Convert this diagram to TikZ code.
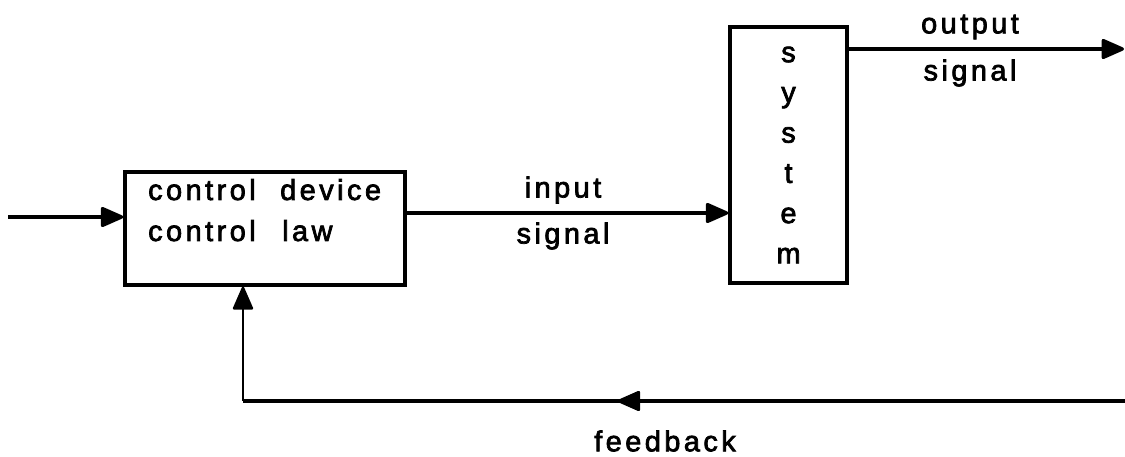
\documentclass[tikz,border=0pt]{standalone}
\usepackage{fontspec}
\setmainfont{Liberation Sans}
\newfontfamily\lblfont{Liberation Sans}[LetterSpace=12,FakeBold=2.5]
\usetikzlibrary{arrows.meta,decorations.markings}
\tikzset{
  blk/.style={draw, line width=3.5bp, inner sep=0pt},
  lbl/.style={inner sep=0pt, font=\lblfont\fontsize{29}{40.4}\selectfont},
  wire/.style={line width=3.3bp},
  sig/.style={wire, -{Triangle[length=25bp,width=21bp,round]}},
}
\begin{document}
\begin{tikzpicture}[x=1bp,y=-1bp]
\useasboundingbox (0,0) rectangle (1125,457);
% blocks
\node[blk, minimum width=280bp, minimum height=113bp] (ctrl) at (265,228.5) {};
\node[lbl, anchor=base west] (c1) at (148,200) {control};
\node[lbl, anchor=base west] (c2) at (280,200) {device};
\node[lbl, anchor=base west] (c3) at (148,241) {control};
\node[lbl, anchor=base west] (c4) at (282,241) {law};
\node[blk, minimum width=117bp, minimum height=256bp, lbl, align=center] (sys) at (788.5,155)
  {s\\y\\s\\t\\e\\m};
% connection points
\coordinate (src) at (8,217);
\coordinate (uy) at (0,213);
\coordinate (yy) at (0,49);
\coordinate (out) at (1124,49);
\coordinate (fbR) at (1125,401);
\coordinate (fbL) at (243,401);
% signals
\draw[sig] (src) -- (ctrl.west |- src);
\draw[sig] (ctrl.east |- uy) -- (sys.west |- uy);
\draw[sig] (sys.east |- yy) -- (out);
\draw[wire, postaction={decorate}, decoration={markings,
    mark=at position 0.575 with {\arrow{Triangle[length=25bp,width=21bp,round]}}}]
  (fbR) -- (fbL);
\draw[sig, line width=2.6bp] (fbL) -- (fbL |- ctrl.south);
% labels
\node[lbl] (inlab) at (563,190) {input};
\node[lbl] (insig) at (563,236) {signal};
\node[lbl] (outlab) at (970,27) {output};
\node[lbl] (outsig) at (970,73) {signal};
\node[lbl] (fblab) at (665,441) {feedback};
\end{tikzpicture}
\end{document}
